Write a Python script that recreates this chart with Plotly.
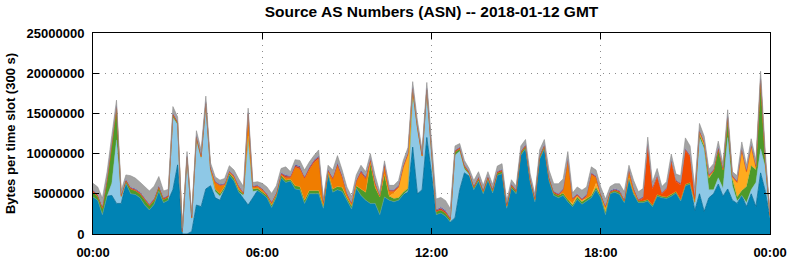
import pandas as pd
import plotly.graph_objects as go

# Values in millions of bytes per 300 s slot, sampled every 10 minutes (00:00 .. 24:00)
base_blue = [4.6,4.2,2.4,4.7,4.8,3.8,3.8,6.3,5.0,4.9,4.5,3.6,
             3.0,3.7,5.3,3.9,4.2,5.5,8.6,0.0,0.0,0.3,3.6,3.4,
             5.6,6.0,4.5,4.2,5.6,7.3,6.6,5.2,4.4,3.6,4.5,5.4,
             5.0,4.5,3.3,4.6,7.0,6.4,6.6,5.6,5.5,3.8,5.0,5.0,
             5.0,3.2,7.4,5.2,5.5,5.3,4.1,3.1,5.7,4.8,4.2,3.8,
             3.8,2.4,4.6,4.2,4.0,4.2,4.9,5.2,10.8,5.0,5.5,12.0,
             7.5,2.4,2.6,2.2,1.5,2.0,5.5,7.6,7.2,5.5,6.6,5.0,
             6.7,5.1,7.3,7.5,3.2,5.7,5.0,9.8,10.6,6.4,4.0,9.3,
             10.6,6.6,4.8,4.5,4.8,4.0,3.4,4.3,3.7,4.1,4.5,5.5,
             4.5,2.4,5.0,5.2,4.9,3.9,6.8,4.9,3.9,3.9,4.1,3.4,
             4.7,4.5,4.4,4.7,5.1,4.1,6.0,6.2,2.9,5.0,2.8,4.5,
             5.0,6.2,4.7,5.6,4.2,3.8,4.8,3.4,5.0,3.4,7.6,5.3,
             2.0]
light_blue = [0,0,0,0,1.5,7.9,0.7,0,0,0,0,0,
              0,0,0,0,0,9.0,5.0,0.3,9.3,1.5,8.0,6.0,
              10.3,1.8,0.8,0.5,0,0,0,0,0.4,8.1,0.8,0,
              0,0,0,0,0,0,0,0,0,0,0,0,
              0,0,0,0,0,0,0,0,0,0,0,0,
              0,0,0,0,0,0,0,0.2,6.5,8.0,4.0,5.6,
              2.5,0,0,0,0,7.8,4.8,0.5,0.2,0,0,0,
              0,0,0,0,0,0,0,0,0,0,0,0,
              0,0,0,0,0,0,0,0,0,0,0,0,
              0,0,0,0,0,0,0,0,0,0,0,0,
              0,0,0,0,0,0,0,0,0.8,7.0,7.8,1.0,
              0.5,0.8,1.0,6.4,1.8,0.3,0,0.5,0.5,3.0,3.0,3.0,
              0]
green = [0.6,0.5,0.8,2.0,4.8,4.0,0.2,0.3,0.6,0.5,0.5,0.6,
         0.5,0.5,0.5,0.4,0.4,0.3,0.2,0,0.2,0.2,0.4,0.2,
         0.3,0.3,0.3,0.3,0.3,0.3,0.3,0.3,0.2,0.5,0.3,0.3,
         0.3,0.3,0.3,0.3,0.3,0.3,0.2,0.4,0.4,0.4,0.4,0.4,
         0.4,0.3,0.3,0.4,0.4,0.5,0.4,0.4,0.3,0.8,1.0,5.0,
         2.0,2.2,2.8,0.5,0.4,0.3,0.3,0.3,0.4,0.3,0.2,0.3,
         0.3,0.4,0.4,0.4,0.3,0.4,0.3,0.3,0.2,0.3,0.3,0.3,
         0.3,0.3,0.3,0.3,0.3,0.3,0.3,0.3,0.3,0.3,0.3,0.3,
         0.3,0.3,0.3,0.3,0.3,0.3,0.2,0.3,0.3,0.3,0.3,0.3,
         0.3,0.3,0.2,0.2,0.3,0.2,0.2,0.2,0.2,0.2,0.2,0.2,
         0.2,0.2,0.2,0.2,0.2,0.2,0.2,0.2,0.3,0.4,0.3,1.4,
         2.3,3.5,2.3,2.2,0.8,0.5,0.6,2.0,3.0,1.6,8.2,0.5,
         0.3]
yellow = [0]*64 + [0.7,1.2,3.1,4.2,0.3] + [0]*33 + [0.2,0.2,0.2,0,0,0.5,0,0.6] + [0]*19 + \
         [0.3,0.4,0.3,0,0,0,0.2,0.3,1.8,5.0,1.8,2.4,0.3,0.3,0,0]
orange = [0,0,0,0,0,0,0,0,0,0,0,0,
          0,0,0,0,0,0,0,0,0,0,0,0,
          0,0,0.8,1.0,0.2,0.1,0.2,0.3,0,2.7,0.2,0.2,
          0.2,0,0.2,0.1,0.1,0.3,0.2,2.3,2.2,2.7,2.6,3.5,
          4.0,0.3,0.1,1.2,2.6,1.2,0.4,0.2,0.5,2.0,1.6,0.3,
          0.4,0.1,1.0,0.6,0.2,0.1,0,0,0,0,0,0,
          0,0,0,0,0,0,0,0,0,0,0,0,
          0,0,0,0,0,0,0,0,0,0,0,0,
          0,0,0,0,0.3,4.8,0.5,0,0,0.3,2.6,0.7,
          0,0,0,0,0,0,0.8,0.4,0,0,0,0,
          0,0,0,0,0,0,0,0,0,0,0,0,
          0,0,0,0,0,0,0,0,0,0,0,0.3,
          0]
red_orange = [0]*117 + [0.3,6.6,2.0,2.2,0.3,1.0,4.1,1.2,1.8,4.2,3.2,0.5] + [0]*16
thin_red = [0.2,0.15,0.15,0.15,0.15,0.15,0.15,0.15,0.15,0.15,0.15,0.15,
            0.15,0.15,0.15,0.15,0.15,0.15,0.15,0.05,0.15,0.1,0.15,0.15,
            0.15,0.15,0.1,0.1,0.1,0.1,0.15,0.15,0.1,0.15,0.1,0.1,
            0.1,0.15,0.15,0.1,0.15,0.2,0.15,0.2,0.2,0.15,0.2,0.2,
            0.2,0.1,0.15,0.15,0.2,0.2,0.15,0.15,0.15,0.2,0.2,0.2,
            0.2,0.1,0.2,0.15,0.15,0.15,0.15,0.15,0.15,0.15,0.15,0.15,
            0.15,0.15,0.2,0.2,0.15,0.15,0.15,0.15,0.15,0.15,0.15,0.15,
            0.15,0.15,0.15,0.15,0.15,0.15,0.15,0.15,0.15,0.15,0.15,0.15,
            0.15,0.15,0.15,0.15,0.15,0.15,0.1,0.15,0.15,0.15,0.15,0.15,
            0.15,0.15,0.1,0.15,0.15,0.15,0.15,0.15,0.15,0.15,0.15,0.15,
            0.15,0.1,0.1,0.15,0.15,0.15,0.15,0.15,0.15,0.15,0.15,0.15,
            0.15,0.2,0.15,0.15,0.15,0.15,0.15,0.15,0.15,0.15,0.15,0.15,
            0.1]
thin_purple = [0.1,0.1,0.1,0.1,0.1,0.1,0.05,0.1,0.1,0.1,0.1,0.1,
               0.1,0.1,0.1,0.1,0.1,0.1,0.1,0.0,0.1,0.05,0.1,0.1,
               0.1,0.1,0.1,0.1,0.1,0.1,0.1,0.1,0.1,0.1,0.1,0.1,
               0.1,0.1,0.1,0.1,0.1,0.15,0.1,0.15,0.15,0.1,0.15,0.15,
               0.15,0.1,0.1,0.1,0.15,0.15,0.1,0.1,0.1,0.15,0.15,0.1,
               0.1,0.05,0.1,0.1,0.1,0.1,0.1,0.1,0.1,0.1,0.1,0.1,
               0.1,0.1,0.15,0.15,0.1,0.1,0.1,0.1,0.1,0.1,0.1,0.1,
               0.1,0.1,0.1,0.1,0.1,0.1,0.1,0.1,0.1,0.1,0.1,0.1,
               0.1,0.1,0.1,0.1,0.1,0.1,0.1,0.1,0.1,0.1,0.1,0.1,
               0.1,0.1,0.1,0.1,0.1,0.1,0.1,0.1,0.1,0.1,0.1,0.1,
               0.1,0.1,0.1,0.1,0.1,0.1,0.1,0.1,0.1,0.1,0.1,0.1,
               0.1,0.15,0.1,0.1,0.1,0.1,0.1,0.1,0.1,0.1,0.1,0.1,
               0.05]
gray = [0.8,0.9,1.0,0.8,0.9,0.7,0.5,0.5,1.4,1.3,1.2,1.5,
        1.6,1.5,1.1,0.8,0.7,0.8,0.5,0.4,0.5,0.3,0.6,0.6,
        0.7,0.5,0.5,0.5,0.6,0.6,0.6,0.8,0.7,0.5,0.4,0.4,
        0.6,0.8,1.0,0.8,0.5,1.0,0.5,0.6,0.7,0.8,0.6,0.5,
        0.7,0.4,0.5,0.9,0.9,0.6,0.7,0.7,0.6,0.6,0.6,0.6,
        0.8,0.4,0.4,0.5,0.5,0.6,0.6,0.6,0.7,0.6,0.5,0.7,
        0.6,1.3,1.2,1.2,1.1,0.5,0.4,0.5,0.3,0.6,0.6,0.5,
        0.5,0.5,0.6,0.7,0.4,0.5,0.4,0.6,0.6,0.5,0.4,0.6,
        0.6,0.8,0.9,1.2,1.2,0.9,0.6,0.8,1.0,0.9,0.7,0.7,
        0.8,0.8,0.5,0.6,0.8,0.9,0.5,0.9,0.9,1.0,0.9,0.6,
        0.8,0.7,0.7,0.7,0.7,0.9,1.3,1.1,1.0,0.8,0.6,0.6,
        0.7,0.7,0.5,0.8,0.4,0.6,0.8,0.6,0.7,0.6,0.9,0.8,
        0.3]

times = pd.date_range("2018-01-12 00:00", periods=len(base_blue), freq="10min")

series = [
    ("AS A", base_blue, "#0083b4", "#006a93", 0.8),
    ("AS B", light_blue, "#8ec8e6", "#7fbcdc", 0.4),
    ("AS C", green, "#4d9a2a", "#4d9a2a", 0.3),
    ("AS D", yellow, "#ffab1e", "#ffab1e", 0.3),
    ("AS E", orange, "#f07d00", "#f07d00", 0.3),
    ("AS F", red_orange, "#f24b00", "#f24b00", 0.3),
    ("AS G", thin_red, "#c8402a", "#c8402a", 0.3),
    ("AS H", thin_purple, "#5060b0", "#5060b0", 0.2),
    ("Other", gray, "#a3a3a3", "#8c8c8c", 0.6),
]

fig = go.Figure()
for name, vals, fill, edge, lw in series:
    fig.add_trace(go.Scatter(
        x=times, y=[v * 1e6 for v in vals], name=name,
        mode="lines", stackgroup="one", fillcolor=fill,
        line=dict(color=edge, width=lw),
        hoverinfo="skip",
    ))

font_family = "Liberation Sans, Arial, sans-serif"
grid_dash = "1px,5px"
fig.update_layout(
    width=792, height=259,
    margin=dict(l=93, r=22, t=33, b=25),
    paper_bgcolor="white", plot_bgcolor="white",
    showlegend=False,
    font=dict(family=font_family, size=13, color="black"),
    title=dict(text="<b>Source AS Numbers (ASN) -- 2018-01-12 GMT</b>",
               x=0.5, xref="paper", xanchor="center",
               y=1 - 11.5 / 259, yref="container", yanchor="middle",
               font=dict(family=font_family, size=15.5, color="black")),
)
fig.update_xaxes(
    type="date", automargin=False,
    range=["2018-01-12 00:00", "2018-01-13 00:00"],
    tickvals=["2018-01-12 00:00", "2018-01-12 06:00", "2018-01-12 12:00",
              "2018-01-12 18:00", "2018-01-13 00:00"],
    ticktext=["<b>00:00</b>", "<b>06:00</b>", "<b>12:00</b>", "<b>18:00</b>", "<b>00:00</b>"],
    ticks="inside", ticklen=6, tickcolor="black",
    ticklabelstandoff=6,
    showline=True, linecolor="black", linewidth=1, mirror="allticks",
    showgrid=True, gridcolor="#8c8c8c", griddash=grid_dash, gridwidth=1,
    tickfont=dict(size=13),
    zeroline=False,
)
fig.update_yaxes(
    automargin=False,
    range=[0, 25e6],
    tickvals=[0, 5e6, 10e6, 15e6, 20e6, 25e6],
    ticktext=["<b>0</b>", "<b>5000000</b>", "<b>10000000</b>", "<b>15000000</b>",
              "<b>20000000</b>", "<b>25000000</b>"],
    ticks="inside", ticklen=6, tickcolor="black",
    ticklabelstandoff=5,
    showline=True, linecolor="black", linewidth=1, mirror="allticks",
    showgrid=True, gridcolor="#8c8c8c", griddash=grid_dash, gridwidth=1,
    tickfont=dict(size=13),
    title=dict(text="<b>Bytes per time slot (300 s)</b>", font=dict(size=13), standoff=8),
    zeroline=False,
)

fig.write_html("out.html")
